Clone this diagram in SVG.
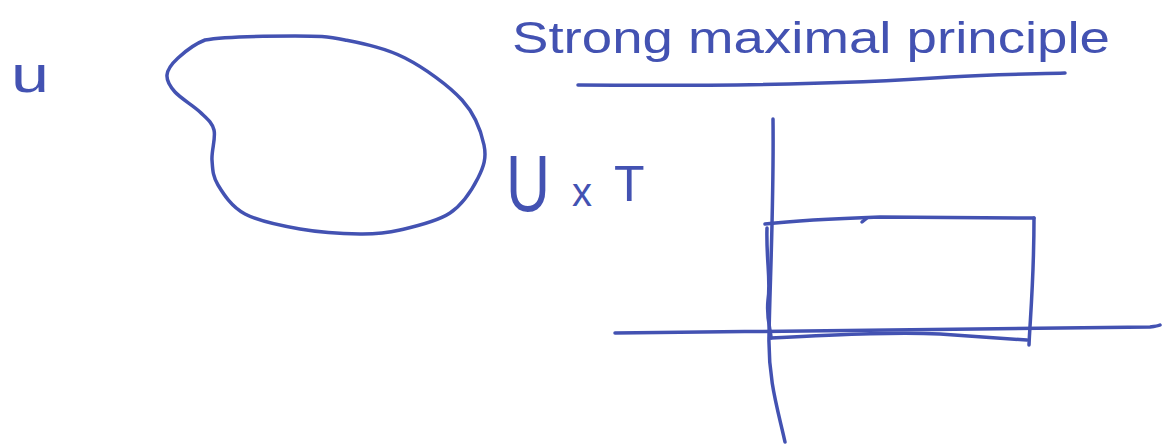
<svg xmlns="http://www.w3.org/2000/svg" width="1162" height="446" viewBox="0 0 1162 446">
<style>
.ink{fill:none;stroke:#4352B2;stroke-width:3.5;stroke-linecap:round;stroke-linejoin:round}
.txt{fill:#4352B2;font-family:"Liberation Sans",Arial,sans-serif}
</style>
<rect width="1162" height="446" fill="#ffffff"/>
<g id="label-u"><text class="txt" x="11" y="92" font-size="52" textLength="38" lengthAdjust="spacingAndGlyphs">u</text></g>
<g id="region-blob">
<path class="ink" d="M205,40 C224.5,36.3 271.7,36 295,36 C318.3,36 326.7,36.3 345,40 C363.3,43.7 385.5,48 405,58 C424.5,68 448.8,85.5 462,100 C475.2,114.5 481.3,132 484,145 C486.7,158 483.7,166.7 478,178 C472.3,189.3 463,204.3 450,213 C437,221.7 415,226.5 400,230 C385,233.5 376.7,234.2 360,234 C343.3,233.8 319.2,232.3 300,229 C280.8,225.7 258.7,221.3 245,214 C231.3,206.7 223.5,194 218,185 C212.5,176 212.7,169.2 212,160 C211.3,150.8 216,138 214,130 C212,122 206.5,118.3 200,112 C193.5,105.7 180.5,98.2 175,92 C169.5,85.8 166.5,80.7 167,75 C167.5,69.3 171.7,63.8 178,58 C184.3,52.2 192,45 205,40 Z"/>
</g>
<g id="title">
<text class="txt" x="512" y="53" font-size="44" textLength="598" lengthAdjust="spacingAndGlyphs">Strong maximal principle</text>
<path class="ink" d="M578,85 C700,86 850,84 950,77 C1000,74 1040,74 1065,73"/>
</g>
<g id="label-UxT">
<text class="txt" x="506" y="211" font-size="80" textLength="44" lengthAdjust="spacingAndGlyphs">U</text>
<text class="txt" x="572" y="206" font-size="40">x</text>
<text class="txt" x="614" y="201" font-size="50">T</text>
</g>
<g id="axes">
<path class="ink" d="M773,119 C774,200 770,280 769,335 C768,380 778,410 785,442"/>
<path class="ink" d="M615,333 C800,331 1000,329 1150,327 Q1158,326 1160,325"/>
</g>
<g id="rectangle">
<path class="ink" d="M765,224 C800,220 850,218 880,217 L1034,218"/>
<path class="ink" d="M862,222 L867,218"/>
<path class="ink" d="M1034,218 C1034,280 1030,320 1029,345"/>
<path class="ink" d="M771,338 C850,334 900,332 940,334 C980,337 1010,339 1027,340"/>
<path class="ink" d="M767,228 C766,260 771,280 768,300 C766,320 771,330 771,338"/>
</g>
</svg>
